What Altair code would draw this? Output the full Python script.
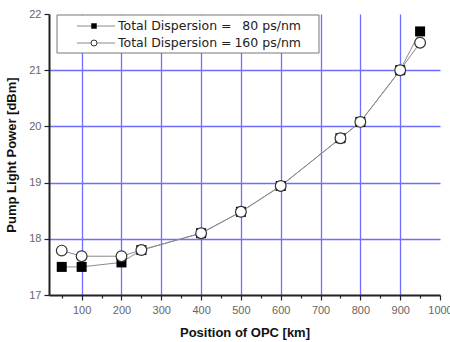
import altair as alt
import pandas as pd

# Pump power needed vs. position of the optical phase conjugator
positions = [50, 100, 200, 250, 400, 500, 600, 750, 800, 900, 950]
power_80 = [17.5, 17.5, 17.58, 17.8, 18.1, 18.48, 18.94, 19.79, 20.08, 21.0, 21.69]
power_160 = [17.79, 17.69, 17.69, 17.8, 18.1, 18.48, 18.94, 19.79, 20.08, 21.0, 21.49]

series_names = ["Total Dispersion =   80 ps/nm", "Total Dispersion = 160 ps/nm"]
legend_prefix = ["Total Dispersion =", "Total Dispersion ="]
legend_values = ["80 ps/nm", "160 ps/nm"]

x_ticks = list(range(50, 1001, 50))
y_ticks = [17 + 0.5 * i for i in range(11)]

FONT = "Liberation Sans"
LEGEND_FONT = "DejaVu Sans"
GRID = "#6e6eff"

df = pd.concat([
    pd.DataFrame({"pos": positions, "power": power_80, "series": series_names[0]}),
    pd.DataFrame({"pos": positions, "power": power_160, "series": series_names[1]}),
])
df_sq = df[df["series"] == series_names[0]]
df_ci = df[df["series"] == series_names[1]]

x_scale = alt.Scale(domain=[18, 1000], nice=False, zero=False)
y_scale = alt.Scale(domain=[17, 22], nice=False, zero=False)

x_axis = alt.Axis(
    title="Position of OPC [km]",
    values=x_ticks,
    format="d",
    labelExpr="datum.value % 100 == 0 ? datum.label : ''",
    tickSize={"condition": {"test": "datum.value % 100 == 0", "value": 5}, "value": 3},
    gridOpacity={"condition": {"test": "datum.value % 100 == 0 && datum.value < 1000", "value": 1}, "value": 0},
    labelFlush=False,
    labelOverlap=False,
    labelPadding=4,
    titlePadding=11,
)
y_axis = alt.Axis(
    title="Pump Light Power [dBm]",
    values=y_ticks,
    format="d",
    labelExpr="datum.value % 1 == 0 ? datum.label : ''",
    tickSize={"condition": {"test": "datum.value % 1 == 0", "value": 5}, "value": 3},
    gridOpacity={"condition": {"test": "datum.value % 1 == 0 && datum.value > 17 && datum.value < 22", "value": 1}, "value": 0},
    labelFlush=False,
    labelOverlap=False,
    labelPadding=3,
    titlePadding=10,
)

X = alt.X("pos:Q", scale=x_scale, axis=x_axis)
Y = alt.Y("power:Q", scale=y_scale, axis=y_axis)

lines = alt.Chart(df).mark_line(color="#8a8a8a", strokeWidth=1).encode(
    x=X, y=Y, detail="series:N",
)

squares = alt.Chart(df_sq).mark_point(
    shape="square", filled=True, color="#000000", size=100, opacity=1
).encode(x=X, y=Y)

circles = alt.Chart(df_ci).mark_point(
    shape="circle", filled=True, fill="#ffffff", stroke="#333333", strokeWidth=1.2, size=115, opacity=1
).encode(x=X, y=Y)

# Legend box drawn inside the plot area
one = pd.DataFrame({"k": [0]})
box = alt.Chart(one).mark_rect(fill="white", stroke="#777777", strokeWidth=1).encode(
    x=alt.value(8), x2=alt.value(270), y=alt.value(1), y2=alt.value(39)
)

legend_layers = [box]
row_y = [12, 29]
for i in range(2):
    ry = row_y[i]
    legend_layers.append(
        alt.Chart(one).mark_rule(color="#8a8a8a", strokeWidth=1).encode(
            x=alt.value(28), x2=alt.value(66), y=alt.value(ry)
        )
    )
    if i == 0:
        legend_layers.append(
            alt.Chart(one).mark_point(shape="square", filled=True, color="#000000", size=30, opacity=1).encode(
                x=alt.value(45), y=alt.value(ry)
            )
        )
    else:
        legend_layers.append(
            alt.Chart(one).mark_point(shape="circle", filled=True, fill="#ffffff", stroke="#333333",
                                      strokeWidth=1, size=36, opacity=1).encode(
                x=alt.value(45), y=alt.value(ry)
            )
        )
    legend_layers.append(
        alt.Chart(pd.DataFrame({"t": [legend_prefix[i]]})).mark_text(
            align="left", baseline="middle", font=LEGEND_FONT, fontSize=12.5, color="#222222"
        ).encode(x=alt.value(69), y=alt.value(ry), text="t:N")
    )
    legend_layers.append(
        alt.Chart(pd.DataFrame({"t": [legend_values[i]]})).mark_text(
            align="right", baseline="middle", font=LEGEND_FONT, fontSize=12.5, color="#222222"
        ).encode(x=alt.value(252), y=alt.value(ry), text="t:N")
    )

chart = alt.layer(lines, squares, circles, *legend_layers).properties(
    width=391,
    height=281,
    autosize=alt.AutoSizeParams(type="none"),
    padding={"left": 49, "top": 14, "right": 10, "bottom": 47},
).configure_view(
    stroke=None
).configure_axis(
    domainColor="#222222",
    domainWidth=2,
    tickColor="#222222",
    tickWidth=1.2,
    gridColor=GRID,
    gridWidth=1.3,
    labelFont=FONT,
    labelFontSize=11,
    labelColor="#666666",
    titleFont=FONT,
    titleFontSize=13,
    titleFontWeight="bold",
    titleColor="#111111",
)

chart.save("out.html", embed_options={"renderer": "svg", "actions": False})
